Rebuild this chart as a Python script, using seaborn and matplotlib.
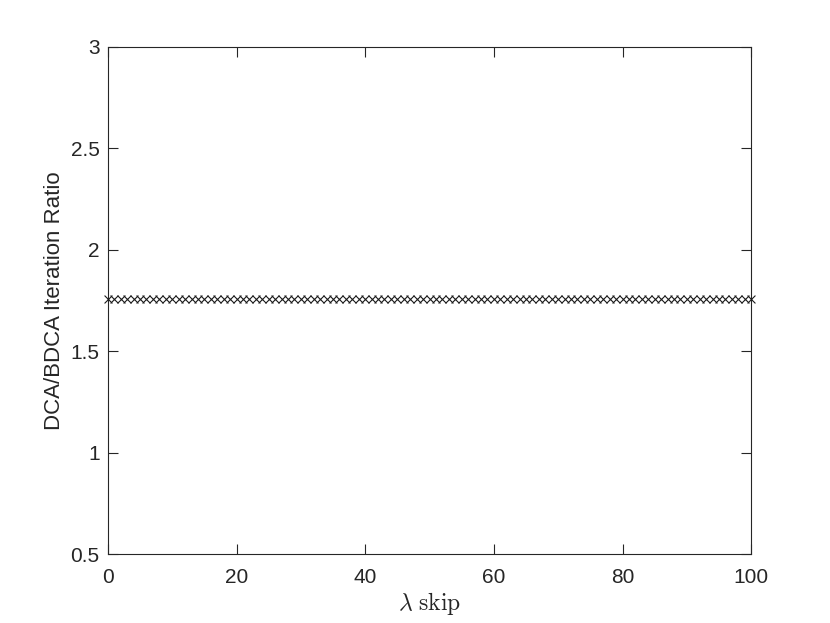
import seaborn as sns
import matplotlib.pyplot as plt

# lambda skip values and the measured DCA/BDCA iteration ratio at each
lambda_skip = list(range(0, 101))
ratio = [
    1.76, 1.76, 1.76, 1.76, 1.76, 1.76, 1.76, 1.76, 1.76, 1.76,
    1.76, 1.76, 1.76, 1.76, 1.76, 1.76, 1.76, 1.76, 1.76, 1.76,
    1.76, 1.76, 1.76, 1.76, 1.76, 1.76, 1.76, 1.76, 1.76, 1.76,
    1.76, 1.76, 1.76, 1.76, 1.76, 1.76, 1.76, 1.76, 1.76, 1.76,
    1.76, 1.76, 1.76, 1.76, 1.76, 1.76, 1.76, 1.76, 1.76, 1.76,
    1.76, 1.76, 1.76, 1.76, 1.76, 1.76, 1.76, 1.76, 1.76, 1.76,
    1.76, 1.76, 1.76, 1.76, 1.76, 1.76, 1.76, 1.76, 1.76, 1.76,
    1.76, 1.76, 1.76, 1.76, 1.76, 1.76, 1.76, 1.76, 1.76, 1.76,
    1.76, 1.76, 1.76, 1.76, 1.76, 1.76, 1.76, 1.76, 1.76, 1.76,
    1.76, 1.76, 1.76, 1.76, 1.76, 1.76, 1.76, 1.76, 1.76, 1.76,
    1.76,
]
x_ticks = [0, 20, 40, 60, 80, 100]
y_ticks = [0.5, 1, 1.5, 2, 2.5, 3]
y_tick_labels = ["0.5", "1", "1.5", "2", "2.5", "3"]

sns.set_theme(style="white")
plt.rcParams["font.family"] = ["Liberation Sans", "DejaVu Sans"]
plt.rcParams["mathtext.fontset"] = "cm"

axis_col = "#262626"

fig = plt.figure(figsize=(8.3, 6.23), dpi=100)
ax = fig.add_axes([0.13, 0.11, 0.775, 0.815])

sns.scatterplot(x=lambda_skip, y=ratio, ax=ax, color="k", marker="x",
                s=32, linewidth=0.8, zorder=3, clip_on=False)

ax.set_xlim(0, 100)
ax.set_ylim(0.5, 3)
ax.set_xticks(x_ticks)
ax.set_xticklabels([str(t) for t in x_ticks])
ax.set_yticks(y_ticks)
ax.set_yticklabels(y_tick_labels)

for side in ["left", "right", "top", "bottom"]:
    ax.spines[side].set_visible(True)
    ax.spines[side].set_color(axis_col)
    ax.spines[side].set_linewidth(0.8)

ax.tick_params(direction="in", length=7, width=0.8, colors=axis_col,
               labelsize=15, top=True, right=True, bottom=True, left=True,
               labeltop=False, labelright=False)
ax.tick_params(axis="x", pad=10)
ax.tick_params(axis="y", pad=6)

ax.set_xlabel(r"$\lambda\ \mathrm{skip}$", fontsize=17, color=axis_col, labelpad=2)
ax.set_ylabel("DCA/BDCA Iteration Ratio", fontsize=16, color=axis_col, labelpad=4)

fig.savefig("out.png", dpi=100, facecolor="white")
